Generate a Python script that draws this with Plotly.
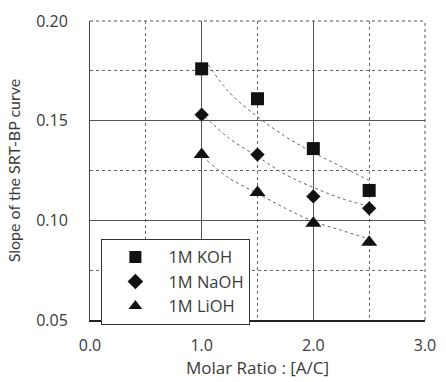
import plotly.graph_objects as go

# ---- data ----
molar_ratio = [1.0, 1.5, 2.0, 2.5]
koh = [0.176, 0.161, 0.136, 0.115]
naoh = [0.153, 0.133, 0.112, 0.106]
lioh = [0.133, 0.114, 0.0985, 0.089]

# fitted curves as drawn
koh_fit_x = [1.06, 1.25, 1.5, 1.75, 2.0, 2.25, 2.5]
koh_fit_y = [0.178, 0.164, 0.152, 0.142, 0.134, 0.127, 0.120]
naoh_fit_x = [1.03, 1.25, 1.5, 1.75, 2.0, 2.25, 2.5]
naoh_fit_y = [0.152, 0.141, 0.132, 0.123, 0.1165, 0.111, 0.107]
lioh_fit_x = [1.05, 1.25, 1.5, 1.75, 2.0, 2.25, 2.5]
lioh_fit_y = [0.130, 0.121, 0.1135, 0.106, 0.0995, 0.095, 0.0906]

series_names = ["1M KOH", "1M NaOH", "1M LiOH"]
x_ticks = [0.0, 1.0, 2.0, 3.0]
x_tick_labels = ["0.0", "1.0", "2.0", "3.0"]
y_ticks = [0.05, 0.10, 0.15, 0.20]
y_tick_labels = ["0.05", "0.10", "0.15", "0.20"]

FONT = "Open Sans"
TXT = "#3a3a3a"

fig = go.Figure()

for fx, fy in [(koh_fit_x, koh_fit_y), (naoh_fit_x, naoh_fit_y), (lioh_fit_x, lioh_fit_y)]:
    fig.add_trace(go.Scatter(x=fx, y=fy, mode="lines", showlegend=False,
                             line=dict(color="#666666", width=1, dash="dot", shape="spline"),
                             hoverinfo="skip"))

for name, ys, sym, sz in [(series_names[0], koh, "square", 13),
                          (series_names[1], naoh, "diamond", 11),
                          (series_names[2], lioh, "triangle-up", 14)]:
    fig.add_trace(go.Scatter(x=molar_ratio, y=ys, mode="markers", name=name,
                             marker=dict(symbol=sym, size=sz, color="#111111",
                                         line=dict(width=0))))

# top and right frame edges (dotted)
fig.add_shape(type="line", xref="paper", yref="paper", x0=0, x1=1, y0=1, y1=1,
              line=dict(color="#555555", width=1, dash="dot"))
fig.add_shape(type="line", xref="paper", yref="paper", x0=1, x1=1, y0=0, y1=1,
              line=dict(color="#555555", width=1, dash="dot"))

fig.update_layout(
    width=446, height=382,
    margin=dict(l=90, r=10, t=21, b=59),
    paper_bgcolor="white", plot_bgcolor="white",
    font=dict(family=FONT, size=16, color=TXT),
    showlegend=True,
    legend=dict(x=0.034, y=0.2715, xanchor="left", yanchor="top",
                bgcolor="white", bordercolor="#333333", borderwidth=1,
                font=dict(family=FONT, size=16.5, color=TXT),
                itemwidth=56, tracegroupgap=0, itemsizing="constant"),
    xaxis=dict(range=[0, 3], tickvals=x_ticks, ticktext=x_tick_labels,
               showgrid=True, gridcolor="#555555", gridwidth=1,
               minor=dict(dtick=0.5, tick0=0, showgrid=True, gridcolor="#666666",
                          griddash="dot", gridwidth=1),
               showline=True, linecolor="#222222", linewidth=1.5,
               ticks="", ticklabelstandoff=10, ticklabeloverflow="allow",
               zeroline=False,
               title=dict(text="Molar Ratio : [A/C]", standoff=4,
                          font=dict(size=17, color=TXT))),
    yaxis=dict(range=[0.05, 0.20], tickvals=y_ticks, ticktext=y_tick_labels,
               showgrid=True, gridcolor="#555555", gridwidth=1,
               minor=dict(dtick=0.025, tick0=0.05, showgrid=True, gridcolor="#666666",
                          griddash="dot", gridwidth=1),
               showline=True, linecolor="#444444", linewidth=1,
               ticks="", ticklabelstandoff=18, zeroline=False,
               title=dict(text="Slope of the SRT-BP curve", standoff=11,
                          font=dict(family="Lato", size=16, color=TXT))),
)

fig.write_html("out.html")
